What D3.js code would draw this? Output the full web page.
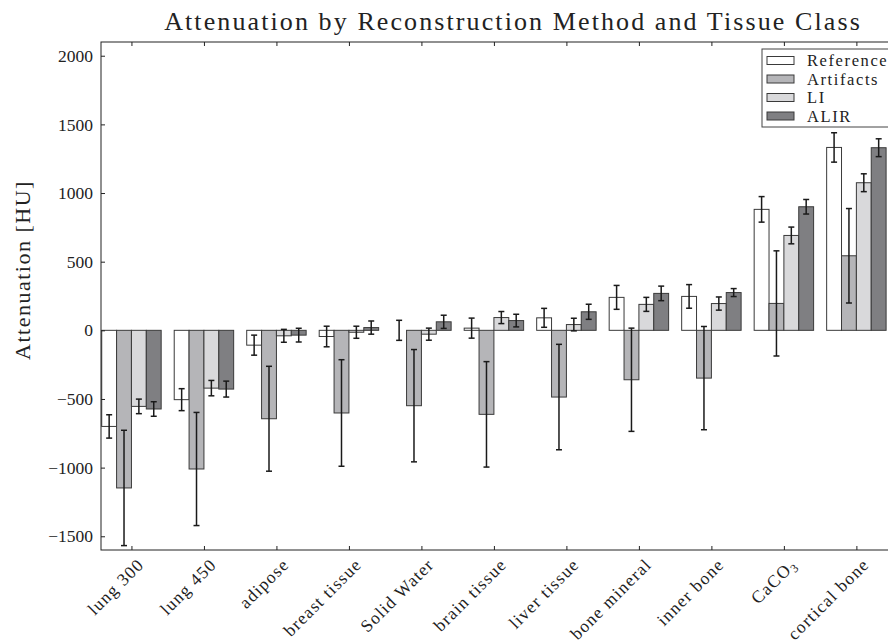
<!DOCTYPE html>
<html>
<head>
<meta charset="utf-8">
<script src="https://cdn.jsdelivr.net/npm/d3@7"></script>
<style>
  body { margin: 0; background: #fff; }
  svg { display: block; font-family: "Liberation Serif", "DejaVu Serif", serif; }
</style>
</head>
<body>
<svg id="chart" width="888" height="643"></svg>
<script>
// tissue classes along the x axis
const tissues = ["lung 300", "lung 450", "adipose", "breast tissue", "Solid Water",
  "brain tissue", "liver tissue", "bone mineral", "inner bone", "CaCO3", "cortical bone"];
const methods = ["Reference", "Artifacts", "LI", "ALIR"];

// mean attenuation per method (HU)
const reference = [-700, -505, -108, -45, 0, 16, 91, 240, 247, 881, 1332];
const artifacts = [-1148, -1010, -644, -602, -549, -612, -486, -360, -348, 196, 543];
const li        = [-554, -421, -40, -14, -28, 93, 42, 189, 195, 691, 1075];
const alir      = [-573, -428, -35, 20, 62, 71, 135, 269, 275, 900, 1330];

// standard deviations (error bars)
const referenceErr = [85, 80, 73, 75, 73, 73, 69, 87, 86, 93, 107];
const artifactsErr = [420, 412, 382, 388, 409, 384, 384, 376, 376, 383, 344];
const liErr        = [53, 56, 47, 44, 44, 44, 46, 51, 48, 61, 65];
const alirErr      = [53, 58, 50, 48, 48, 46, 55, 53, 29, 53, 65];

const yTicks = [-1500, -1000, -500, 0, 500, 1000, 1500, 2000];

const fills = ["#ffffff", "#b5b5b8", "#d9d9db", "#7f7f82"];
const series = [
  {vals: reference, err: referenceErr},
  {vals: artifacts, err: artifactsErr},
  {vals: li, err: liErr},
  {vals: alir, err: alirErr}
];

const plot = {left: 101, top: 42, right: 889, bottom: 550};

const svg = d3.select("#chart");

const x = d3.scaleLinear()
  .domain([-0.42, 10.45])
  .range([plot.left, plot.right]);

const y = d3.scaleLinear()
  .domain([-1600, 2100])
  .range([plot.bottom, plot.top]);

const barW = 0.205;

const g = svg.append("g");

// bars
series.forEach(function(s, k) {
  const off = (k - 2) * barW;
  g.selectAll(".bar-" + k)
    .data(s.vals).enter()
    .append("rect")
    .attr("class", "bar-" + k)
    .attr("x", (d, i) => x(i + off))
    .attr("width", x(barW) - x(0))
    .attr("y", (d) => y(Math.max(0, d)))
    .attr("height", (d) => Math.abs(y(d) - y(0)))
    .attr("fill", fills[k])
    .attr("stroke", "#3a3a3a")
    .attr("stroke-width", 1);
});

// error bars
series.forEach(function(s, k) {
  const off = (k - 2) * barW + barW / 2;
  const eg = g.selectAll(".err-" + k)
    .data(s.vals).enter()
    .append("g")
    .attr("class", "err-" + k)
    .attr("stroke", "#1a1a1a")
    .attr("stroke-width", 1.5);
  eg.append("line")
    .attr("x1", (d, i) => x(i + off))
    .attr("x2", (d, i) => x(i + off))
    .attr("y1", (d, i) => y(d - s.err[i]))
    .attr("y2", (d, i) => y(d + s.err[i]));
  [-1, 1].forEach(function(sgn) {
    eg.append("line")
      .attr("x1", (d, i) => x(i + off) - 3)
      .attr("x2", (d, i) => x(i + off) + 3)
      .attr("y1", (d, i) => y(d + sgn * s.err[i]))
      .attr("y2", (d, i) => y(d + sgn * s.err[i]));
  });
});

// frame
svg.append("rect")
  .attr("x", plot.left)
  .attr("y", plot.top)
  .attr("width", plot.right - plot.left)
  .attr("height", plot.bottom - plot.top)
  .attr("fill", "none")
  .attr("stroke", "#222")
  .attr("stroke-width", 1);

// y axis (ticks inward)
const yAxis = svg.append("g")
  .attr("transform", "translate(" + plot.left + ",0)")
  .call(d3.axisRight(y).tickValues(yTicks).tickSize(4).tickFormat(""));
yAxis.select(".domain").remove();
yAxis.selectAll("line").attr("stroke", "#222");

svg.append("g").selectAll("text")
  .data(yTicks).enter()
  .append("text")
  .attr("x", plot.left - 8)
  .attr("y", (d) => y(d))
  .attr("dy", "0.35em")
  .attr("text-anchor", "end")
  .attr("font-size", 17.5)
  .attr("fill", "#222")
  .text((d) => d < 0 ? "\u2212" + Math.abs(d) : d);

// x axis ticks, bottom and top, inward
const xIdx = d3.range(tissues.length);
const xBottom = svg.append("g")
  .attr("transform", "translate(0," + plot.bottom + ")")
  .call(d3.axisTop(x).tickValues(xIdx).tickSize(4).tickFormat(""));
xBottom.select(".domain").remove();
const xTop = svg.append("g")
  .attr("transform", "translate(0," + plot.top + ")")
  .call(d3.axisBottom(x).tickValues(xIdx).tickSize(4).tickFormat(""));
xTop.select(".domain").remove();
svg.selectAll(".tick line").attr("stroke", "#222");

// rotated category labels
const xl = svg.append("g").selectAll("text")
  .data(tissues).enter()
  .append("text")
  .attr("transform", (d, i) => "translate(" + (x(i) + 5) + "," + (plot.bottom + 7) + ") rotate(-45)")
  .attr("text-anchor", "end")
  .attr("dy", "0.7em")
  .attr("font-size", 17.5)
  .attr("letter-spacing", 1.2)
  .attr("fill", "#222");
xl.each(function(d) {
  const t = d3.select(this);
  if (d == "CaCO3") {
    t.append("tspan").text("CaCO");
    t.append("tspan").attr("font-size", 12).attr("dy", "0.3em").text("3");
  } else {
    t.text(d);
  }
});

// y label
svg.append("text")
  .attr("transform", "translate(30," + 270 + ") rotate(-90)")
  .attr("text-anchor", "middle")
  .attr("font-size", 22)
  .attr("letter-spacing", 1.5)
  .attr("fill", "#222")
  .text("Attenuation [HU]");

// title
svg.append("text")
  .attr("x", 513)
  .attr("y", 30)
  .attr("text-anchor", "middle")
  .attr("font-size", 26)
  .attr("letter-spacing", 2.1)
  .attr("fill", "#222")
  .text("Attenuation by Reconstruction Method and Tissue Class");

// legend
const leg = svg.append("g").attr("transform", "translate(762,49)");
leg.append("rect")
  .attr("width", 140)
  .attr("height", 78)
  .attr("fill", "#fff")
  .attr("stroke", "#444")
  .attr("stroke-width", 1);
methods.forEach(function(m, k) {
  const row = leg.append("g").attr("transform", "translate(5," + (11.5 + k * 18.5) + ")");
  row.append("rect")
    .attr("x", 0)
    .attr("y", -4)
    .attr("width", 27)
    .attr("height", 8)
    .attr("fill", fills[k])
    .attr("stroke", "#3a3a3a")
    .attr("stroke-width", 1);
  row.append("text")
    .attr("x", 40)
    .attr("dy", "0.35em")
    .attr("font-size", 16.5)
    .attr("letter-spacing", 1.6)
    .attr("fill", "#222")
    .text(m);
});
</script>
</body>
</html>
